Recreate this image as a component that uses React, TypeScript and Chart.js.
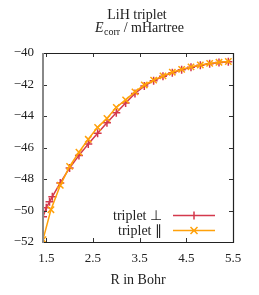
import React, { useEffect, useRef } from "react";
import { Chart, registerables } from "chart.js";

Chart.register(...registerables);

const perpX = [1.43, 1.5, 1.57, 1.63, 1.8, 2.0, 2.2, 2.4, 2.6, 2.8, 3.0, 3.2, 3.4, 3.6, 3.8, 4.0, 4.2, 4.4, 4.6, 4.8, 5.0, 5.2, 5.4];
const perpY = [-50.4, -49.82, -49.45, -49.12, -48.25, -47.3, -46.5, -45.78, -45.1, -44.43, -43.8, -43.17, -42.57, -42.1, -41.76, -41.48, -41.25, -41.06, -40.9, -40.78, -40.68, -40.61, -40.56];
const parX = [1.43, 1.6, 1.8, 2.0, 2.2, 2.4, 2.6, 2.8, 3.0, 3.2, 3.4, 3.6, 3.8, 4.0, 4.2, 4.4, 4.6, 4.8, 5.0, 5.2, 5.4];
const parY = [-51.85, -49.95, -48.4, -47.2, -46.3, -45.48, -44.72, -44.15, -43.45, -42.98, -42.47, -42.03, -41.72, -41.45, -41.22, -41.04, -40.88, -40.76, -40.66, -40.59, -40.54];
const xTicks = [1.5, 2.5, 3.5, 4.5, 5.5];
const yTicks = [-52, -50, -48, -46, -44, -42, -40];
const seriesLabels = ["triplet \u22a5", "triplet \u2225"];
const titleLine1 = "LiH triplet";
const xTitle = "R in Bohr";

const RED = "#d4394c";
const ORANGE = "#ffa10a";
const FONT = "Liberation Serif";
const TXT = 14;

const decorPlugin = {
  id: "decor",
  afterDraw(chart: any) {
    const ctx = chart.ctx;
    const { left, right, top, bottom } = chart.chartArea;
    const xs = chart.scales.x;
    const ys = chart.scales.y;
    ctx.save();
    // ticks
    ctx.strokeStyle = "#333";
    ctx.lineWidth = 1;
    ctx.beginPath();
    xTicks.forEach((v) => {
      const px = Math.round(xs.getPixelForValue(v)) + 0.5;
      ctx.moveTo(px, bottom);
      ctx.lineTo(px, bottom - 4);
      ctx.moveTo(px, top);
      ctx.lineTo(px, top + 4);
    });
    yTicks.forEach((v) => {
      const py = Math.round(ys.getPixelForValue(v)) + 0.5;
      ctx.moveTo(left, py);
      ctx.lineTo(left + 4, py);
      ctx.moveTo(right, py);
      ctx.lineTo(right - 4, py);
    });
    ctx.stroke();
    // border
    ctx.strokeStyle = "#222";
    ctx.lineWidth = 1.2;
    ctx.beginPath();
    ctx.moveTo(left, top + 0.5);
    ctx.lineTo(right + 0.5, top + 0.5);
    ctx.lineTo(right + 0.5, bottom + 0.5);
    ctx.lineTo(left, bottom + 0.5);
    ctx.stroke();
    ctx.strokeStyle = "#888";
    ctx.lineWidth = 2;
    ctx.beginPath();
    ctx.moveTo(left, top);
    ctx.lineTo(left, bottom + 1);
    ctx.stroke();

    // titles
    ctx.fillStyle = "#222";
    ctx.textBaseline = "alphabetic";
    ctx.textAlign = "center";
    ctx.font = `${TXT}px "${FONT}"`;
    ctx.fillText(titleLine1, 137, 18.5);
    ctx.fillText(xTitle, 138, 284);

    // second title line: E_corr / mHartree
    ctx.textAlign = "left";
    const partE = "E";
    const partSub = "corr";
    const partRest = " / mHartree";
    ctx.font = `italic ${TXT}px "${FONT}"`;
    const wE = ctx.measureText(partE).width;
    ctx.font = `10px "${FONT}"`;
    const wS = ctx.measureText(partSub).width;
    ctx.font = `${TXT}px "${FONT}"`;
    const wR = ctx.measureText(partRest).width;
    const total = wE + 0.5 + wS + wR;
    let x0 = 139.5 - total / 2;
    const base = 32;
    ctx.font = `italic ${TXT}px "${FONT}"`;
    ctx.fillText(partE, x0, base);
    x0 += wE + 0.5;
    ctx.font = `10px "${FONT}"`;
    ctx.fillText(partSub, x0, base + 2.5);
    x0 += wS;
    ctx.font = `${TXT}px "${FONT}"`;
    ctx.fillText(partRest, x0, base);

    // legend
    const rows = [
      { y: 215.5, color: RED, style: "plus" },
      { y: 230.5, color: ORANGE, style: "x" },
    ];
    rows.forEach((r, i) => {
      ctx.fillStyle = "#222";
      ctx.textAlign = "right";
      ctx.textBaseline = "middle";
      ctx.font = `${TXT}px "${FONT}"`;
      ctx.fillText(seriesLabels[i], 162, r.y + 0.5);
      ctx.strokeStyle = r.color;
      ctx.lineWidth = 1.5;
      ctx.beginPath();
      ctx.moveTo(173, r.y);
      ctx.lineTo(215, r.y);
      const cx = 194;
      if (r.style === "plus") {
        ctx.moveTo(cx, r.y - 4);
        ctx.lineTo(cx, r.y + 4);
      } else {
        ctx.moveTo(cx - 3.5, r.y - 3.5);
        ctx.lineTo(cx + 3.5, r.y + 3.5);
        ctx.moveTo(cx - 3.5, r.y + 3.5);
        ctx.lineTo(cx + 3.5, r.y - 3.5);
      }
      ctx.stroke();
    });
    ctx.restore();
  },
};

export default function App() {
  const ref = useRef<HTMLCanvasElement | null>(null);
  useEffect(() => {
    if (!ref.current) return;
    const toPts = (xs: number[], ys: number[]) => xs.map((x, i) => ({ x, y: ys[i] }));
    const chart = new Chart(ref.current, {
      type: "scatter",
      data: {
        datasets: [
          {
            label: seriesLabels[0],
            data: toPts(perpX, perpY),
            showLine: true,
            borderColor: RED,
            backgroundColor: RED,
            borderWidth: 1.5,
            pointStyle: "cross",
            pointRadius: 4,
            pointBorderWidth: 1.5,
            order: 1,
          },
          {
            label: seriesLabels[1],
            data: toPts(parX, parY),
            showLine: true,
            borderColor: ORANGE,
            backgroundColor: ORANGE,
            borderWidth: 1.5,
            pointStyle: "crossRot",
            pointRadius: 4.5,
            pointBorderWidth: 1.5,
            order: 0,
          },
        ],
      },
      options: {
        responsive: false,
        animation: false,
        devicePixelRatio: 1,
        layout: { padding: { left: 0, right: 26, top: 53, bottom: 0 } },
        plugins: { legend: { display: false }, tooltip: { enabled: false }, title: { display: false } },
        scales: {
          x: {
            type: "linear",
            min: 1.43,
            max: 5.5,
            grid: { display: false, drawTicks: false },
            border: { display: false },
            afterBuildTicks: (s: any) => {
              s.ticks = xTicks.map((v) => ({ value: v }));
            },
            afterFit: (s: any) => {
              s.height = 53;
            },
            ticks: {
              padding: 9,
              color: "#222",
              font: { family: FONT, size: 13 },
              maxRotation: 0,
              autoSkip: false,
              callback: (v: any) => Number(v).toFixed(1),
            },
          },
          y: {
            type: "linear",
            min: -52,
            max: -40,
            grid: { display: false, drawTicks: false },
            border: { display: false },
            afterBuildTicks: (s: any) => {
              s.ticks = yTicks.map((v) => ({ value: v }));
            },
            afterFit: (s: any) => {
              s.width = 43;
            },
            ticks: {
              padding: 9,
              color: "#222",
              font: { family: FONT, size: 13 },
              callback: (v: any) => "\u2212" + String(Math.abs(Number(v))),
            },
          },
        },
      },
      plugins: [decorPlugin],
    } as any);
    return () => chart.destroy();
  }, []);
  return (
    <canvas
      ref={ref}
      width={259}
      height={295}
      style={{ position: "fixed", left: 0, top: 0, width: 259, height: 295, background: "#fff" }}
    />
  );
}
